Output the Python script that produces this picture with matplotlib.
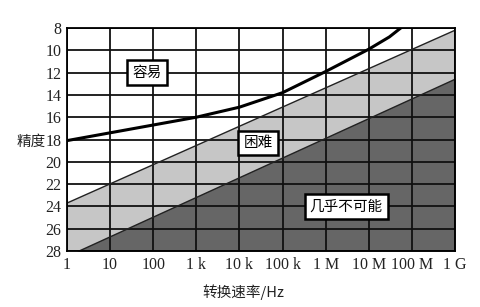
import matplotlib.pyplot as plt

# frequency axis (Hz) and resolution (bits)
freq_ticks = [1, 1e1, 1e2, 1e3, 1e4, 1e5, 1e6, 1e7, 1e8, 1e9]
freq_labels = ['1', '10', '100', '1 k', '10 k', '100 k', '1 M', '10 M', '100 M', '1 G']
bit_ticks = [8, 10, 12, 14, 16, 18, 20, 22, 24, 26, 28]

# "easy" boundary curve
curve_freq = [1, 10, 100, 1e3, 1e4, 1e5, 1e6, 1e7, 3e7, 5.5e7]
curve_bits = [18.1, 17.4, 16.7, 16.0, 15.1, 13.8, 11.9, 9.9, 8.8, 8.0]

# straight boundaries (difficult / almost impossible)
edge_freq = [1, 1e9]
upper_bits = [23.7, 8.2]
lower_bits = [28.5, 12.6]

fig = plt.figure(figsize=(4.8, 3.07), dpi=100)
ax = fig.add_axes([0.1396, 0.1824, 0.8084, 0.7264])

ax.fill_between(edge_freq, upper_bits, lower_bits, color='#c6c6c6', zorder=1)
ax.fill_between(edge_freq, lower_bits, [30, 30], color='#666666', zorder=1)
ax.plot(edge_freq, upper_bits, color='#222222', lw=1.0, zorder=3)
ax.plot(edge_freq, lower_bits, color='#222222', lw=1.0, zorder=3)
ax.plot(curve_freq, curve_bits, color='black', lw=2.2, zorder=4)

ax.set_xscale('log')
ax.set_xlim(1, 1e9)
ax.set_ylim(28, 8)
ax.set_xticks(freq_ticks)
ax.set_xticklabels(freq_labels)
ax.minorticks_off()
ax.set_yticks(bit_ticks)
ax.grid(True, color='#111111', lw=1.3, zorder=2)
ax.set_axisbelow(False)
for s in ax.spines.values():
    s.set_linewidth(1.3)
    s.set_zorder(5)
ax.tick_params(length=0, pad=4)
for lab in ax.get_xticklabels() + ax.get_yticklabels():
    lab.set_fontfamily('Liberation Serif')
    lab.set_fontsize(11.5)
    lab.set_color('#222222')

cjk = ['Noto Sans CJK SC', 'DejaVu Sans']
box = dict(boxstyle='square,pad=0.35', fc='white', ec='black', lw=1.8)
ax.text(72, 12.0, '容易', family=cjk, fontsize=10.5, ha='center', va='center', bbox=box, zorder=6)
ax.text(2.7e4, 18.3, '困难', family=cjk, fontsize=10.5, ha='center', va='center', bbox=box, zorder=6)
ax.text(3.0e6, 24.0, '几乎不可能', family=cjk, fontsize=10.5, ha='center', va='center', bbox=box, zorder=6)

fig.text(0.095, 1 - 142 / 307, '精度', family=cjk, fontsize=10.5, ha='right', va='center', color='#222222')
fig.text(0.506, 1 - 292 / 307, '转换速率/Hz', family=cjk, fontsize=10.5, ha='center', va='center', color='#222222')

fig.savefig('out.png', dpi=100)
